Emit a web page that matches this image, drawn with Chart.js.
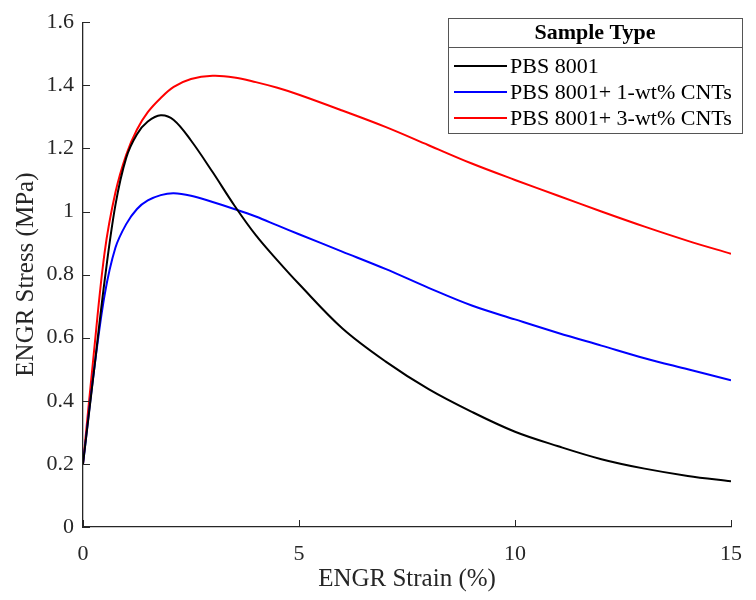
<!DOCTYPE html>
<html>
<head>
<meta charset="utf-8">
<script src="https://cdn.jsdelivr.net/npm/chart.js@4/dist/chart.umd.min.js"></script>
<style>
  html, body { margin: 0; padding: 0; background: #fff; }
  #wrap { width: 756px; height: 600px; }
</style>
</head>
<body>
<div id="wrap"><canvas id="stressChart" width="756" height="600"></canvas></div>
<script>
// strain (%) sample positions shared by all curves
const strain = [0, 0.25, 0.5, 0.75, 1, 1.25, 1.5, 1.8, 2.1, 2.5, 3, 3.5, 4, 4.5, 5, 6, 7, 8, 9, 10, 11, 12, 13, 14, 15];

// ENGR stress (MPa)
const pbs = [0.20, 0.49, 0.78, 1.02, 1.17, 1.245, 1.285, 1.305, 1.29, 1.225, 1.125, 1.02, 0.925, 0.845, 0.77, 0.63, 0.525, 0.437, 0.365, 0.302, 0.256, 0.215, 0.185, 0.162, 0.145];
const cnt1 = [0.20, 0.49, 0.735, 0.885, 0.96, 1.008, 1.035, 1.052, 1.058, 1.05, 1.03, 1.008, 0.984, 0.956, 0.928, 0.873, 0.818, 0.758, 0.702, 0.658, 0.615, 0.575, 0.535, 0.50, 0.465];
const cnt3 = [0.20, 0.55, 0.87, 1.06, 1.18, 1.26, 1.315, 1.36, 1.395, 1.42, 1.43, 1.425, 1.41, 1.392, 1.37, 1.32, 1.268, 1.21, 1.152, 1.10, 1.05, 1.0, 0.952, 0.907, 0.866];

const seriesLabels = ['PBS 8001', 'PBS 8001+ 1-wt% CNTs', 'PBS 8001+ 3-wt% CNTs'];
const seriesColors = ['#000000', '#0000ff', '#ff0000'];
const legendTitle = 'Sample Type';

const xTicks = [0, 5, 10, 15];
const yTicks = [0, 0.2, 0.4, 0.6, 0.8, 1, 1.2, 1.4, 1.6];

const serif = "'Liberation Serif', 'Times New Roman', serif";
const axisColor = '#262626';

function toPoints(ys) {
    return strain.map((x, i) => ({ x: x, y: ys[i] }));
}

// inward tick marks like the original plot
const innerTicks = {
    id: 'innerTicks',
    afterDatasetsDraw(chart) {
        const { ctx, chartArea, scales } = chart;
        ctx.save();
        ctx.strokeStyle = axisColor;
        ctx.lineWidth = 1;
        xTicks.forEach(v => {
            const px = Math.round(scales.x.getPixelForValue(v)) + 0.5;
            ctx.beginPath();
            ctx.moveTo(px, chartArea.bottom);
            ctx.lineTo(px, chartArea.bottom - 7);
            ctx.stroke();
        });
        yTicks.forEach(v => {
            const py = Math.round(scales.y.getPixelForValue(v)) + 0.5;
            ctx.beginPath();
            ctx.moveTo(chartArea.left, py);
            ctx.lineTo(chartArea.left + 7, py);
            ctx.stroke();
        });
        ctx.restore();
    }
};

// boxed legend with a title row
const boxLegend = {
    id: 'boxLegend',
    afterDraw(chart) {
        const { ctx } = chart;
        const left = 448, top = 18, right = 742, bottom = 133, sep = 47;
        ctx.save();
        ctx.fillStyle = '#fff';
        ctx.fillRect(left, top, right - left, bottom - top);
        ctx.strokeStyle = '#555';
        ctx.lineWidth = 1;
        ctx.strokeRect(left + 0.5, top + 0.5, right - left, bottom - top);
        ctx.beginPath();
        ctx.moveTo(left, sep + 0.5);
        ctx.lineTo(right, sep + 0.5);
        ctx.stroke();

        ctx.fillStyle = '#000';
        ctx.textBaseline = 'middle';
        ctx.textAlign = 'center';
        ctx.font = 'bold 22px ' + serif;
        ctx.fillText(legendTitle, (left + right) / 2, 33);

        ctx.textAlign = 'left';
        ctx.font = '22px ' + serif;
        chart.data.datasets.forEach((ds, i) => {
            const y = 66 + i * 26;
            ctx.strokeStyle = ds.borderColor;
            ctx.lineWidth = 2;
            ctx.beginPath();
            ctx.moveTo(454, y);
            ctx.lineTo(507, y);
            ctx.stroke();
            ctx.fillStyle = '#000';
            ctx.fillText(ds.label, 510, y + 1);
        });
        ctx.restore();
    }
};

const ctx = document.getElementById('stressChart').getContext('2d');
new Chart(ctx, {
    type: 'line',
    data: {
        datasets: [pbs, cnt1, cnt3].map((ys, i) => ({
            label: seriesLabels[i],
            data: toPoints(ys),
            borderColor: seriesColors[i],
            backgroundColor: seriesColors[i],
            borderWidth: 2,
            pointRadius: 0,
            fill: false,
            tension: 0.35
        }))
    },
    options: {
        responsive: false,
        animation: false,
        devicePixelRatio: 1,
        layout: { padding: { left: 0, right: 13, top: 14, bottom: 0 } },
        plugins: {
            legend: { display: false },
            tooltip: { enabled: false }
        },
        scales: {
            x: {
                type: 'linear',
                min: 0,
                max: 15,
                afterFit: scale => { scale.height = 73; },
                afterBuildTicks: scale => { scale.ticks = xTicks.map(v => ({ value: v })); },
                grid: { display: false, drawTicks: false },
                border: { display: true, color: axisColor, width: 1.3 },
                ticks: {
                    color: axisColor,
                    padding: 14,
                    maxRotation: 0,
                    font: { family: serif, size: 22 },
                    callback: v => String(v)
                },
                title: {
                    display: true,
                    text: 'ENGR Strain (%)',
                    color: axisColor,
                    padding: { top: 0, bottom: 6 },
                    font: { family: serif, size: 25 }
                }
            },
            y: {
                min: 0,
                max: 1.6,
                afterFit: scale => { scale.width = 83; },
                afterBuildTicks: scale => { scale.ticks = yTicks.map(v => ({ value: v })); },
                grid: { display: false, drawTicks: false },
                border: { display: true, color: axisColor, width: 1.3 },
                ticks: {
                    color: axisColor,
                    padding: 9,
                    font: { family: serif, size: 22 },
                    callback: v => String(+Number(v).toFixed(1))
                },
                title: {
                    display: true,
                    text: 'ENGR Stress (MPa)',
                    color: axisColor,
                    padding: { top: 11, bottom: 0 },
                    font: { family: serif, size: 25 }
                }
            }
        }
    },
    plugins: [innerTicks, boxLegend]
});
</script>
</body>
</html>
